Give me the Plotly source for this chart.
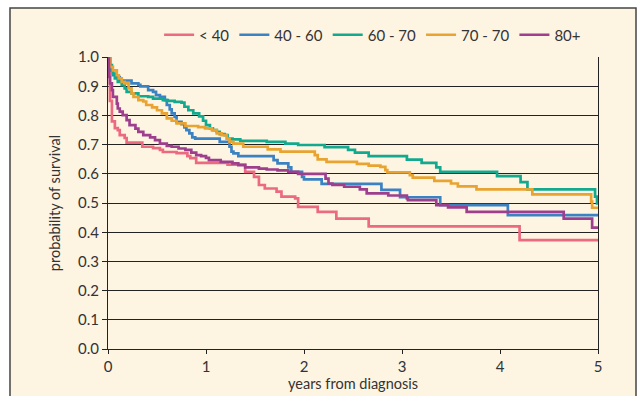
import plotly.graph_objects as go

# ---- data ----
series_names = ["< 40", "40 - 60", "60 - 70", "70 - 70", "80+"]
series_colors = ["#EC6A80", "#3B82C2", "#12A98F", "#E8A330", "#9E3F8E"]

t_lt40 = [0, 0.02, 0.04, 0.07, 0.10, 0.12, 0.17, 0.19, 0.35, 0.46, 0.53, 0.56, 0.70, 0.81, 0.84, 0.90,
          1.22, 1.40, 1.49, 1.54, 1.60, 1.72, 1.77, 1.91, 1.94, 2.14, 2.33, 2.66, 4.20, 5.0]
s_lt40 = [1.0, 0.85, 0.78, 0.757, 0.75, 0.733, 0.723, 0.707, 0.693, 0.688, 0.682, 0.675, 0.671, 0.661, 0.654, 0.638,
          0.632, 0.607, 0.59, 0.562, 0.55, 0.539, 0.522, 0.516, 0.487, 0.47, 0.447, 0.420, 0.373, 0.373]

t_40_60 = [0, 0.02, 0.05, 0.09, 0.12, 0.24, 0.31, 0.33, 0.41, 0.46, 0.49, 0.53, 0.58, 0.60, 0.63, 0.65, 0.68,
           0.70, 0.75, 0.78, 0.80, 0.83, 0.86, 0.89, 1.14, 1.24, 1.26, 1.28, 1.33, 1.69, 1.73, 1.84, 1.87,
           1.98, 2.00, 2.18, 2.79, 2.98, 3.39, 4.08, 5.0]
s_40_60 = [1.0, 0.955, 0.938, 0.932, 0.92, 0.91, 0.905, 0.90, 0.887, 0.881, 0.87, 0.864, 0.853, 0.836, 0.821,
           0.807, 0.795, 0.778, 0.77, 0.759, 0.75, 0.739, 0.725, 0.721, 0.71, 0.693, 0.676, 0.67, 0.661, 0.647,
           0.636, 0.622, 0.607, 0.59, 0.581, 0.566, 0.545, 0.520, 0.493, 0.459, 0.459]

t_60_70 = [0, 0.02, 0.04, 0.05, 0.07, 0.10, 0.14, 0.17, 0.19, 0.24, 0.31, 0.41, 0.46, 0.56, 0.61, 0.68, 0.75,
           0.78, 0.82, 0.87, 0.93, 0.97, 1.00, 1.04, 1.07, 1.11, 1.14, 1.19, 1.22, 1.27, 1.35, 1.62, 1.81,
           1.94, 2.21, 2.45, 2.52, 2.66, 3.05, 3.20, 3.35, 3.39, 3.97, 4.21, 4.28, 4.97, 4.99, 5.0]
s_60_70 = [1.0, 0.973, 0.955, 0.944, 0.927, 0.915, 0.904, 0.893, 0.881, 0.876, 0.866, 0.864, 0.858, 0.853, 0.85,
           0.847, 0.844, 0.83, 0.818, 0.807, 0.797, 0.782, 0.767, 0.756, 0.75, 0.744, 0.736, 0.733, 0.721,
           0.718, 0.713, 0.71, 0.704, 0.699, 0.692, 0.682, 0.673, 0.661, 0.649, 0.638, 0.622, 0.607, 0.592,
           0.572, 0.547, 0.522, 0.499, 0.499]

t_70_70 = [0, 0.02, 0.05, 0.09, 0.11, 0.14, 0.17, 0.21, 0.24, 0.26, 0.31, 0.36, 0.39, 0.45, 0.50, 0.55, 0.60,
           0.65, 0.70, 0.79, 0.92, 0.99, 1.06, 1.11, 1.16, 1.21, 1.24, 1.28, 1.38, 1.63, 1.76, 2.11, 2.14,
           2.23, 2.54, 2.66, 2.78, 2.83, 2.85, 3.08, 3.11, 3.33, 3.50, 3.57, 3.76, 4.33, 4.93, 4.94, 5.0]
s_70_70 = [1.0, 0.967, 0.955, 0.938, 0.927, 0.915, 0.91, 0.893, 0.876, 0.864, 0.853, 0.848, 0.836, 0.828, 0.818,
           0.807, 0.79, 0.782, 0.773, 0.764, 0.76, 0.756, 0.75, 0.739, 0.733, 0.721, 0.71, 0.704, 0.693,
           0.684, 0.676, 0.664, 0.650, 0.641, 0.634, 0.628, 0.624, 0.613, 0.605, 0.596, 0.587, 0.576, 0.567,
           0.557, 0.547, 0.530, 0.505, 0.484, 0.484]

t_80p = [0, 0.01, 0.02, 0.04, 0.05, 0.09, 0.10, 0.12, 0.15, 0.19, 0.22, 0.28, 0.31, 0.36, 0.43, 0.48, 0.53,
         0.60, 0.65, 0.72, 0.79, 0.85, 0.90, 0.95, 1.00, 1.03, 1.15, 1.27, 1.33, 1.40, 1.54, 1.62, 1.73,
         1.84, 1.94, 2.22, 2.25, 2.29, 2.41, 2.57, 2.64, 2.86, 3.05, 3.06, 3.35, 3.47, 3.66, 4.65, 4.94, 5.0]
s_80p = [1.0, 0.932, 0.91, 0.887, 0.864, 0.841, 0.824, 0.813, 0.801, 0.784, 0.767, 0.755, 0.744, 0.733, 0.725,
         0.716, 0.704, 0.696, 0.693, 0.687, 0.682, 0.673, 0.664, 0.661, 0.655, 0.647, 0.641, 0.636, 0.63,
         0.622, 0.618, 0.615, 0.612, 0.607, 0.60, 0.584, 0.567, 0.562, 0.556, 0.547, 0.533, 0.526, 0.516,
         0.51, 0.493, 0.485, 0.470, 0.447, 0.416, 0.416]

x_ticks = [0, 1, 2, 3, 4, 5]
y_ticks = [0.0, 0.1, 0.2, 0.3, 0.4, 0.5, 0.6, 0.7, 0.8, 0.9, 1.0]
y_tick_labels = ["0.0", "0.1", "0.2", "0.3", "0.4", "0.5", "0.6", "0.7", "0.8", "0.9", "1.0"]

all_t = [t_lt40, t_40_60, t_60_70, t_70_70, t_80p]
all_s = [s_lt40, s_40_60, s_60_70, s_70_70, s_80p]

FONT = "Lato"
TXT = "#333333"
FS = 15

fig = go.Figure()
for name, col, tt, ss in zip(series_names, series_colors, all_t, all_s):
    fig.add_trace(go.Scatter(x=tt, y=ss, name=name, mode="lines",
                             line=dict(color=col, width=2.7, shape="hv")))

W, H = 639, 396
L, R, T, B = 108, 41, 57, 47
pw, ph = W - L - R, H - T - B

def px_x(p):
    return (p - L) / pw

def px_y(p):
    return (H - B - p) / ph

fig.add_shape(type="rect", xref="paper", yref="paper",
              x0=px_x(10), x1=px_x(636), y0=px_y(410), y1=px_y(8),
              fillcolor="#FEF4E2", line=dict(color="#444444", width=1.5), layer="below")

fig.update_layout(
    width=W, height=H,
    margin=dict(l=L, r=R, t=T, b=B, autoexpand=False),
    paper_bgcolor="white",
    plot_bgcolor="#FEF4E2",
    font=dict(family=FONT, size=FS, color=TXT),
    showlegend=True,
    legend=dict(orientation="h", x=0.54, xanchor="center", y=px_y(35), yanchor="middle",
                bgcolor="rgba(0,0,0,0)", font=dict(size=FS, color=TXT),
                itemwidth=30, tracegroupgap=0),
    xaxis=dict(range=[0, 5], tickvals=x_ticks, ticktext=[str(v) for v in x_ticks], automargin=False,
               showgrid=False, zeroline=False, showline=True, linecolor="#222222", linewidth=1,
               ticks="outside", ticklen=4, tickcolor="#222222", tickfont=dict(size=FS),
               title=dict(text="years from diagnosis", standoff=4, font=dict(size=14.5, color=TXT))),
    yaxis=dict(range=[0, 1.0005], tickvals=y_ticks, ticktext=y_tick_labels, automargin=False,
               showgrid=True, gridcolor="#222222", gridwidth=1, zeroline=False,
               showline=True, linecolor="#222222", linewidth=1, mirror=True,
               ticks="outside", ticklen=5, tickcolor="#222222", tickfont=dict(size=FS),
               title=dict(text="probability of survival", standoff=13, font=dict(size=14.5, color=TXT))),
)

fig.write_html("out.html",
               config={"displayModeBar": False},
               post_script="document.body.style.margin='0';document.body.style.padding='0';")
